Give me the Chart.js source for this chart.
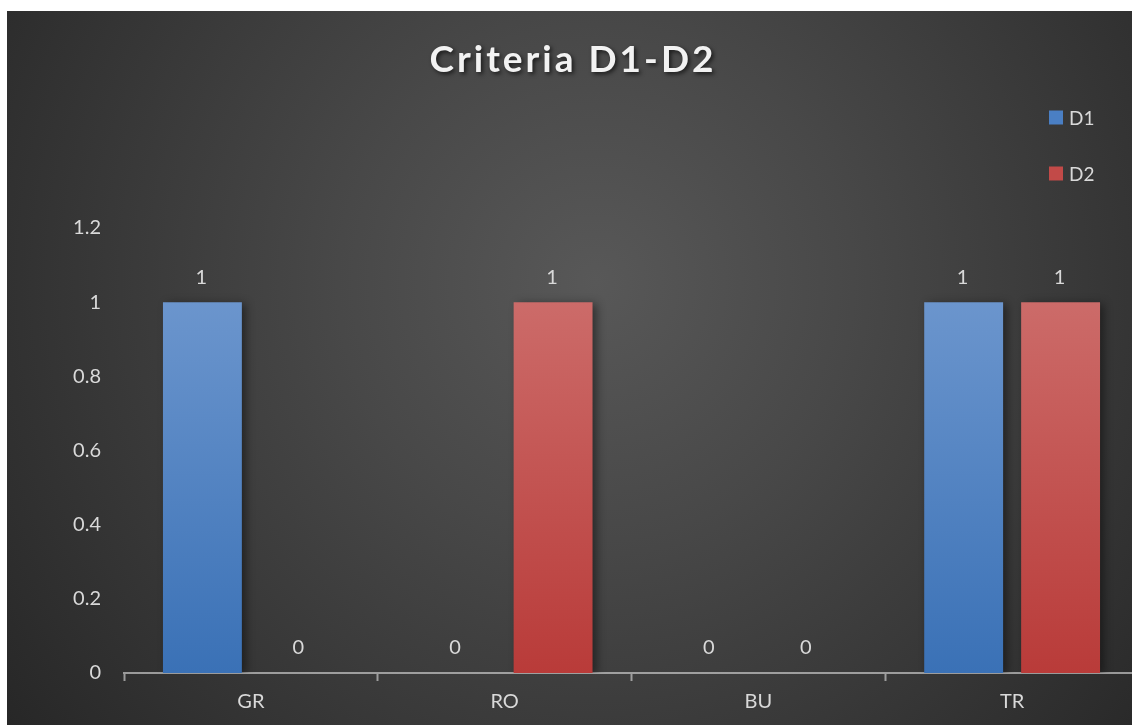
<!DOCTYPE html>
<html>
<head>
<meta charset="utf-8">
<script src="https://cdn.jsdelivr.net/npm/chart.js@4/dist/chart.umd.min.js"></script>
<style>
  html, body { margin: 0; padding: 0; background: #ffffff; overflow: hidden; width: 1132px; height: 725px; }
  #wrap {
    position: absolute; left: 7px; top: 11px; width: 1132px; height: 714px;
    background: radial-gradient(circle farthest-corner at 52% 38%, #585858 0%, #484848 35%, #272727 100%);
  }
  canvas { display: block; }
</style>
</head>
<body>
<div id="wrap"><canvas id="chart" width="1132" height="714"></canvas></div>
<script>
// Chart content
const chartTitle = 'Criteria D1-D2';
const categories = ['GR', 'RO', 'BU', 'TR'];
const seriesNames = ['D1', 'D2'];
const d1Values = [1, 0, 0, 1];
const d2Values = [0, 1, 0, 1];
const yTickLabels = ['0', '0.2', '0.4', '0.6', '0.8', '1', '1.2'];

const FONT = 'Lato, "Open Sans", sans-serif';
const TEXT = '#d9d9d9';
const LABEL_SIZE = 20;

// top/bottom colours of each series' vertical gradient
const seriesColors = [
  { top: '#6b95cd', bottom: '#3a71b6', swatch: '#4a7fc4' },
  { top: '#cc6b69', bottom: '#b93b39', swatch: '#c24a48' }
];

function barGradient(idx) {
  return function (context) {
    const chart = context.chart;
    const c = seriesColors[idx];
    if (!chart.chartArea) return c.bottom;
    const y = chart.scales.y;
    const g = chart.ctx.createLinearGradient(0, y.getPixelForValue(1), 0, y.getPixelForValue(0));
    g.addColorStop(0, c.top);
    g.addColorStop(1, c.bottom);
    return g;
  };
}

// soft drop shadow behind bars
const barShadow = {
  id: 'barShadow',
  beforeDatasetsDraw(chart) {
    const ctx = chart.ctx;
    ctx.save();
    ctx.shadowColor = 'rgba(0,0,0,0.45)';
    ctx.shadowBlur = 9;
    ctx.shadowOffsetX = 4;
    ctx.shadowOffsetY = 2;
  },
  afterDatasetsDraw(chart) {
    chart.ctx.restore();
  }
};

// value labels above every bar
const valueLabels = {
  id: 'valueLabels',
  afterDatasetsDraw(chart) {
    const ctx = chart.ctx;
    ctx.save();
    ctx.font = LABEL_SIZE + 'px ' + FONT;
    ctx.fillStyle = TEXT;
    ctx.textAlign = 'center';
    ctx.textBaseline = 'middle';
    chart.data.datasets.forEach((ds, di) => {
      chart.getDatasetMeta(di).data.forEach((bar, i) => {
        ctx.fillText(String(ds.data[i]), bar.x - 1, bar.y - 25);
      });
    });
    ctx.restore();
  }
};

// title with letter spacing and shadow
const titlePlugin = {
  id: 'titlePlugin',
  afterDraw(chart) {
    const ctx = chart.ctx;
    ctx.save();
    ctx.font = 'bold 37px ' + FONT;
    if ('letterSpacing' in ctx) ctx.letterSpacing = '3px';
    ctx.textAlign = 'center';
    ctx.textBaseline = 'alphabetic';
    ctx.shadowColor = 'rgba(0,0,0,0.65)';
    ctx.shadowBlur = 4;
    ctx.shadowOffsetX = 2;
    ctx.shadowOffsetY = 2;
    ctx.fillStyle = '#f2f2f2';
    ctx.fillText(chartTitle, 566, 61);
    ctx.restore();
  }
};

// vertical legend in the top-right corner
const legendPlugin = {
  id: 'legendPlugin',
  afterDraw(chart) {
    const ctx = chart.ctx;
    ctx.save();
    ctx.font = '19px ' + FONT;
    ctx.textBaseline = 'middle';
    ctx.textAlign = 'left';
    chart.data.datasets.forEach((ds, i) => {
      const cy = 106.5 + i * 56;
      ctx.fillStyle = seriesColors[i].swatch;
      ctx.fillRect(1042, cy - 7, 14, 14);
      ctx.fillStyle = TEXT;
      ctx.fillText(ds.label, 1062, cy + 1);
    });
    ctx.restore();
  }
};

new Chart(document.getElementById('chart'), {
  type: 'bar',
  data: {
    labels: categories,
    datasets: [
      { label: seriesNames[0], data: d1Values, backgroundColor: barGradient(0) },
      { label: seriesNames[1], data: d2Values, backgroundColor: barGradient(1) }
    ]
  },
  options: {
    responsive: false,
    animation: false,
    events: [],
    layout: { padding: { top: 217, left: 0, right: 0, bottom: 0 } },
    datasets: {
      bar: { categoryPercentage: 0.764, barPercentage: 0.814, borderWidth: 0 }
    },
    plugins: {
      legend: { display: false },
      title: { display: false },
      tooltip: { enabled: false }
    },
    scales: {
      x: {
        z: 1,
        offset: true,
        grid: {
          offset: true,
          drawOnChartArea: false,
          drawTicks: true,
          tickLength: 8,
          tickWidth: 2,
          tickColor: 'rgba(217,217,217,0.63)'
        },
        border: { display: true, color: 'rgba(217,217,217,0.63)', width: 2 },
        ticks: { color: TEXT, font: { family: FONT, size: LABEL_SIZE }, padding: 9 },
        afterFit(scale) { scale.height = 52; }
      },
      y: {
        min: 0,
        max: 1.2,
        grid: { display: false, drawTicks: false },
        border: { display: false },
        ticks: {
          stepSize: 0.2,
          color: TEXT,
          font: { family: FONT, size: LABEL_SIZE },
          padding: 23,
          callback: (v, i) => yTickLabels[i]
        },
        afterFit(scale) { scale.width = 117; }
      }
    }
  },
  plugins: [barShadow, valueLabels, titlePlugin, legendPlugin]
});
</script>
</body>
</html>
